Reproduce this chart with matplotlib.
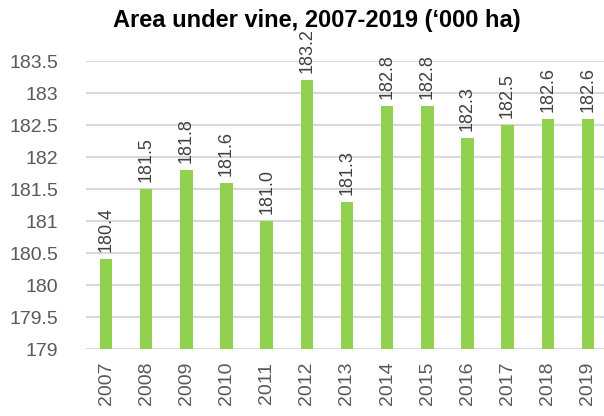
import matplotlib
matplotlib.use("Agg")
import matplotlib.pyplot as plt

years = ["2007", "2008", "2009", "2010", "2011", "2012", "2013",
         "2014", "2015", "2016", "2017", "2018", "2019"]
values = [180.4, 181.5, 181.8, 181.6, 181.0, 183.2, 181.3,
          182.8, 182.8, 182.3, 182.5, 182.6, 182.6]
yticks = [179, 179.5, 180, 180.5, 181, 181.5, 182, 182.5, 183, 183.5]
ytick_labels = ["179", "179.5", "180", "180.5", "181", "181.5", "182", "182.5", "183", "183.5"]

plt.rcParams['font.family'] = ['Liberation Sans', 'DejaVu Sans']

fig = plt.figure(figsize=(6.04, 4.16), dpi=100)
ax = fig.add_axes([86/604, (416-349)/416, 522/604, 288/416])

x = list(range(len(years)))
bars = ax.bar(x, values, width=0.31, color="#92D050", zorder=3)

ax.set_ylim(179, 183.5)
ax.set_xlim(-0.5, len(years) - 0.5)
ax.set_yticks(yticks)
ax.set_yticklabels(ytick_labels)
ax.set_xticks(x)
ax.set_xticklabels(years, rotation=90)
ax.tick_params(axis='both', length=0, labelsize=14, labelcolor="#595959")
ax.tick_params(axis='y', pad=20)
ax.tick_params(axis='x', pad=9)
ax.yaxis.grid(True, color="#D9D9D9", linewidth=1.5, zorder=0)
ax.set_axisbelow(True)
for s in ax.spines.values():
    s.set_visible(False)

for xi, v in zip(x, values):
    ax.annotate(f"{v:.1f}", (xi, v), xytext=(0, 5), textcoords="offset points",
                rotation=90, ha="center", va="bottom", fontsize=13,
                color="#404040", annotation_clip=False)

fig.text(317/604, 1 - 21/416, "Area under vine, 2007-2019 (\u2018000 ha)",
         ha="center", va="center", fontsize=17, fontweight="bold", color="black")

fig.savefig("out.png", dpi=100)
